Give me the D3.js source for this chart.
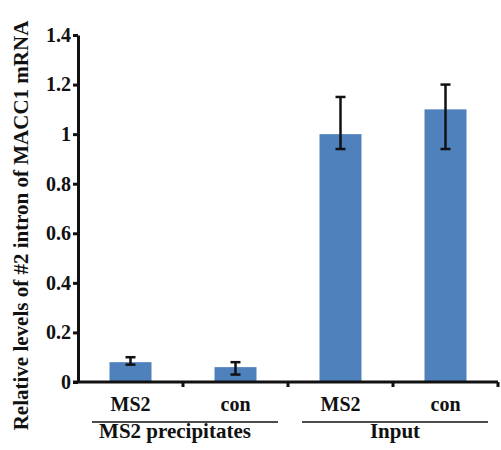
<!DOCTYPE html>
<html>
<head>
<meta charset="utf-8">
<script src="https://cdn.jsdelivr.net/npm/d3@7"></script>
<style>
  body { margin: 0; background: #fff; }
  text { font-family: "Liberation Serif", "DejaVu Serif", serif; font-weight: bold; fill: #111; }
</style>
</head>
<body>
<div id="chart"></div>
<script>
// data
const categories = ["MS2", "con", "MS2", "con"];
const values = [0.08, 0.06, 1.0, 1.1];
const errLow = [0.07, 0.03, 0.94, 0.94];
const errHigh = [0.10, 0.08, 1.15, 1.2];
const groups = [
    { label: "MS2 precipitates", from: 0, to: 1 },
    { label: "Input", from: 2, to: 3 }
];
const yTicks = [0, 0.2, 0.4, 0.6, 0.8, 1, 1.2, 1.4];

const width = 501, height = 450;
const margin = { top: 35, right: 3, bottom: 68, left: 78 };
const color = "#4f81bd";

const svg = d3.select("#chart")
    .append("svg")
    .attr("width", width)
    .attr("height", height);

const xScale = d3.scaleBand()
    .domain(d3.range(categories.length))
    .range([margin.left, width - margin.right])
    .paddingInner(0.6)
    .paddingOuter(0.3);

const yScale = d3.scaleLinear()
    .domain([0, 1.4])
    .range([height - margin.bottom, margin.top]);

const x0 = margin.left;
const bandLeft = i => x0 + i * (width - margin.right - x0) / categories.length;

// bars
svg.append("g")
    .attr("fill", color)
    .selectAll("rect")
    .data(values)
    .join("rect")
    .attr("x", (d, i) => xScale(i))
    .attr("y", d => yScale(d))
    .attr("width", xScale.bandwidth())
    .attr("height", d => yScale(0) - yScale(d));

// error bars
const err = svg.append("g")
    .attr("stroke", "#111")
    .attr("stroke-width", 2.5);
values.forEach((d, i) => {
    const cx = xScale(i) + xScale.bandwidth() / 2;
    err.append("line")
        .attr("x1", cx).attr("x2", cx)
        .attr("y1", yScale(errLow[i])).attr("y2", yScale(errHigh[i]));
    [errLow[i], errHigh[i]].forEach(v => {
        err.append("line")
            .attr("x1", cx - 5).attr("x2", cx + 5)
            .attr("y1", yScale(v)).attr("y2", yScale(v));
    });
});

// y axis
svg.append("g")
    .attr("transform", `translate(${margin.left},0)`)
    .call(d3.axisLeft(yScale).tickValues(yTicks).tickSize(5).tickSizeOuter(0).tickFormat(d3.format("")))
    .call(g => g.selectAll("path, line").attr("stroke", "#111").attr("stroke-width", 3))
    .call(g => g.selectAll(".tick text")
        .attr("font-size", 20)
        .attr("x", -7)
        .attr("fill", "#111"));

// x axis line with ticks at category borders
const xAxis = svg.append("g")
    .attr("stroke", "#111")
    .attr("stroke-width", 3);
xAxis.append("line")
    .attr("x1", margin.left - 5).attr("x2", width - margin.right)
    .attr("y1", yScale(0)).attr("y2", yScale(0));
d3.range(1, categories.length + 1).forEach(i => {
    xAxis.append("line")
        .attr("x1", bandLeft(i)).attr("x2", bandLeft(i))
        .attr("y1", yScale(0)).attr("y2", yScale(0) + 5);
});

// category labels
svg.append("g")
    .selectAll("text")
    .data(categories)
    .join("text")
    .attr("x", (d, i) => xScale(i) + xScale.bandwidth() / 2)
    .attr("y", yScale(0) + 29)
    .attr("text-anchor", "middle")
    .attr("font-size", 20)
    .text(d => d);

// group labels with lines
const grp = svg.append("g");
groups.forEach((gr, i) => {
    const xa = bandLeft(gr.from) + 14;
    const xb = bandLeft(gr.to + 1) - 10;
    const shift = i === 0 ? -10 : 0; // first label sits a bit left of its line centre
    grp.append("line")
        .attr("x1", xa).attr("x2", xb)
        .attr("y1", yScale(0) + 40).attr("y2", yScale(0) + 40)
        .attr("stroke", "#111")
        .attr("stroke-width", 1.5);
    grp.append("text")
        .attr("x", (xa + xb) / 2 + shift)
        .attr("y", yScale(0) + 56)
        .attr("text-anchor", "middle")
        .attr("font-size", 21)
        .text(gr.label);
});

// y axis title
svg.append("text")
    .attr("transform", `translate(28, ${(margin.top + yScale(0)) / 2 + 17}) rotate(-90)`)
    .attr("text-anchor", "middle")
    .attr("font-size", 21)
    .text("Relative levels of #2 intron of MACC1 mRNA");
</script>
</body>
</html>
